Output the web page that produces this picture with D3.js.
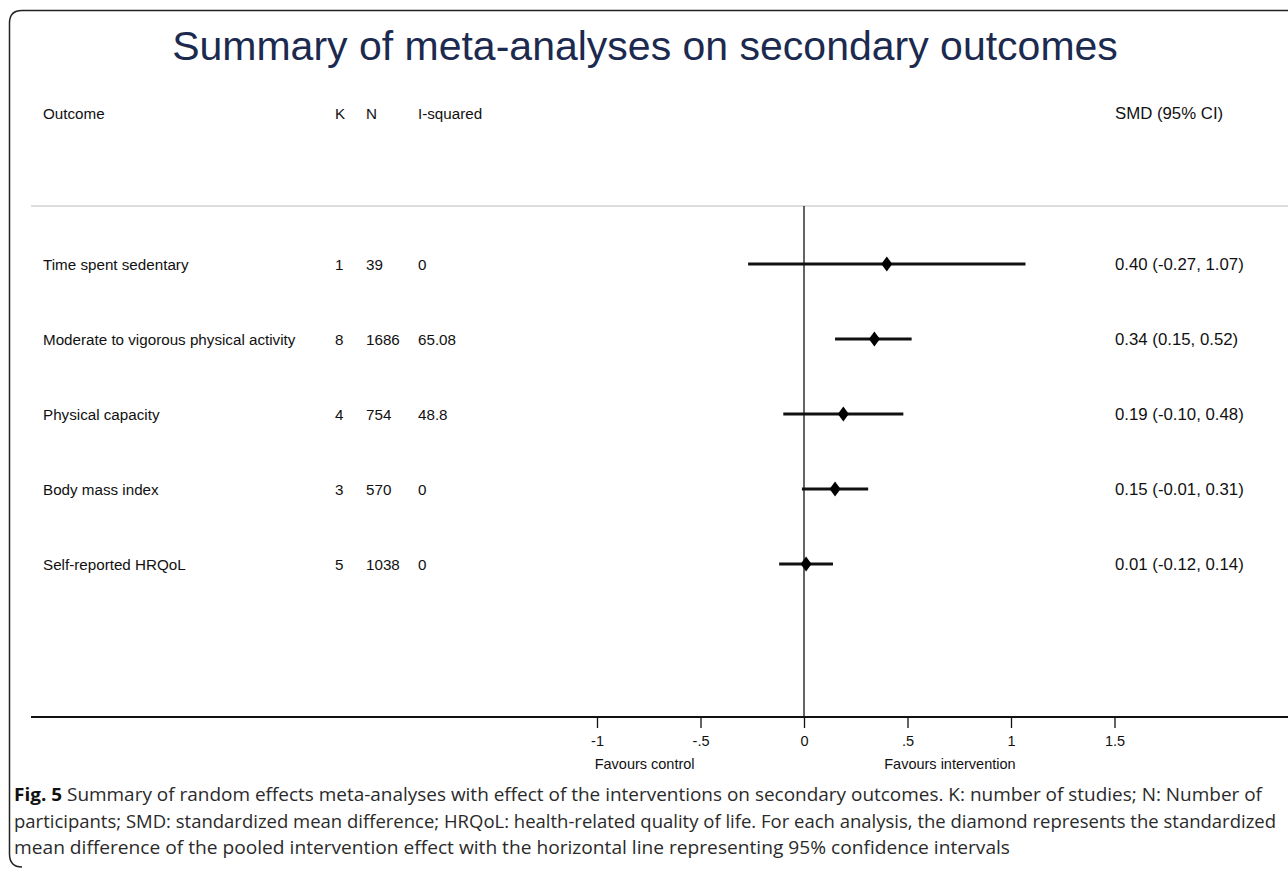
<html>
<head>
<script src="https://d3js.org/d3.v7.min.js"></script>
<style>
  body { margin: 0; background: #fff; }
  svg { font-family: "Liberation Sans", Arial, sans-serif; }
</style>
</head>
<body>
<svg id="chart" width="1288" height="871"></svg>
<script>

// table data, one entry per outcome
var outcomes = ["Time spent sedentary", "Moderate to vigorous physical activity",
  "Physical capacity", "Body mass index", "Self-reported HRQoL"];
var kStudies = [1, 8, 4, 3, 5];
var nParticipants = [39, 1686, 754, 570, 1038];
var iSquared = ["0", "65.08", "48.8", "0", "0"];
var smd = [0.40, 0.34, 0.19, 0.15, 0.01];
var ciLow = [-0.27, 0.15, -0.10, -0.01, -0.12];
var ciHigh = [1.07, 0.52, 0.48, 0.31, 0.14];
var tickValues = [-1, -0.5, 0, 0.5, 1, 1.5];
var tickLabels = ["-1", "-.5", "0", ".5", "1", "1.5"];

var captionLines = [
  "Summary of random effects meta-analyses with effect of the interventions on secondary outcomes. K: number of studies; N: Number of",
  "participants; SMD: standardized mean difference; HRQoL: health-related quality of life. For each analysis, the diamond represents the standardized",
  "mean difference of the pooled intervention effect with the horizontal line representing 95% confidence intervals"
];

var svg = d3.select("#chart");
var fs = 15.2;   // table text
var fsR = 16.8;  // right hand SMD column looks a bit larger

// x scale for the effect sizes: 0 sits at 804, 1 unit = 207px
var x = d3.scaleLinear().domain([0, 1]).range([804, 1011]);

// rows are spaced evenly
var y = d3.scalePoint()
  .domain(outcomes)
  .range([264, 564]);

// frame around the figure (open on the right side)
svg.append("path")
  .attr("d", "M 1288 10.5 L 22 10.5 Q 9.5 10.5 9.5 23 L 9.5 854 Q 9.5 867 22 867")
  .attr("fill", "none")
  .attr("stroke", "#222")
  .attr("stroke-width", 1.5);

// title
svg.append("text")
  .attr("x", 645)
  .attr("y", 60)
  .attr("text-anchor", "middle")
  .attr("font-size", 41)
  .attr("fill", "#1c2a4f")
  .text("Summary of meta-analyses on secondary outcomes");

// column headers
var headerY = 119;
var cols = [
  {x: 43, t: "Outcome", s: fs},
  {x: 335, t: "K", s: fs},
  {x: 366, t: "N", s: fs},
  {x: 418, t: "I-squared", s: fs},
  {x: 1115, t: "SMD (95% CI)", s: fsR}
];
svg.selectAll(".hdr")
  .data(cols)
  .enter().append("text")
  .attr("class", "hdr")
  .attr("x", function(d) { return d.x; })
  .attr("y", headerY)
  .attr("font-size", function(d) { return d.s; })
  .attr("fill", "#111")
  .text(function(d) { return d.t; });

// grey rule under the header
svg.append("line")
  .attr("x1", 31).attr("x2", 1288)
  .attr("y1", 206).attr("y2", 206)
  .attr("stroke", "#bbb")
  .attr("stroke-width", 1.2);

// line of no effect
svg.append("line")
  .attr("x1", x(0)).attr("x2", x(0))
  .attr("y1", 206).attr("y2", 717)
  .attr("stroke", "#111")
  .attr("stroke-width", 1.3);

// table rows
var rows = svg.selectAll(".row")
  .data(outcomes)
  .enter().append("g")
  .attr("class", "row");

rows.append("text")
  .attr("x", 43)
  .attr("y", function(d) { return y(d) + 5.5; })
  .attr("font-size", fs)
  .attr("fill", "#111")
  .text(function(d) { return d; });

rows.append("text")
  .attr("x", 335)
  .attr("y", function(d) { return y(d) + 5.5; })
  .attr("font-size", fs)
  .attr("fill", "#111")
  .text(function(d, i) { return kStudies[i]; });

rows.append("text")
  .attr("x", 366)
  .attr("y", function(d) { return y(d) + 5.5; })
  .attr("font-size", fs)
  .attr("fill", "#111")
  .text(function(d, i) { return nParticipants[i]; });

rows.append("text")
  .attr("x", 418)
  .attr("y", function(d) { return y(d) + 5.5; })
  .attr("font-size", fs)
  .attr("fill", "#111")
  .text(function(d, i) { return iSquared[i]; });

rows.append("text")
  .attr("x", 1115)
  .attr("y", function(d) { return y(d) + 6; })
  .attr("font-size", fsR)
  .attr("fill", "#111")
  .text(function(d, i) {
    return smd[i].toFixed(2) + " (" + ciLow[i].toFixed(2) + ", " + ciHigh[i].toFixed(2) + ")";
  });

// confidence intervals
rows.append("line")
  .attr("x1", function(d, i) { return x(ciLow[i]); })
  .attr("x2", function(d, i) { return x(ciHigh[i]); })
  .attr("y1", function(d) { return y(d); })
  .attr("y2", function(d) { return y(d); })
  .attr("stroke", "#111")
  .attr("stroke-width", 3);

// diamonds for the pooled estimate
rows.append("path")
  .attr("d", "M 0 -7.5 L 5.5 0 L 0 7.5 L -5.5 0 Z")
  .attr("transform", function(d, i) { return "translate(" + x(smd[i]) + "," + y(d) + ")"; })
  .attr("fill", "#000");

// x axis: long baseline, ticks only at the chosen values
svg.append("line")
  .attr("x1", 31).attr("x2", 1288)
  .attr("y1", 717).attr("y2", 717)
  .attr("stroke", "#111")
  .attr("stroke-width", 1.8);

var axis = d3.axisBottom(x)
  .tickValues(tickValues)
  .tickSize(11)
  .tickPadding(8)
  .tickFormat(function(d, i) { return tickLabels[i]; });

var gAxis = svg.append("g")
  .attr("transform", "translate(0,717)")
  .call(axis);
gAxis.select(".domain").remove();
gAxis.selectAll(".tick line").attr("stroke", "#111").attr("stroke-width", 1.3);
gAxis.selectAll(".tick text")
  .attr("font-family", "Liberation Sans, Arial, sans-serif")
  .attr("font-size", 14.5)
  .attr("fill", "#111");

// favours labels
svg.append("text")
  .attr("x", x(-0.77))
  .attr("y", 769)
  .attr("text-anchor", "middle")
  .attr("font-size", 14.5)
  .attr("fill", "#111")
  .text("Favours control");

svg.append("text")
  .attr("x", x(0.705))
  .attr("y", 769)
  .attr("text-anchor", "middle")
  .attr("font-size", 14.5)
  .attr("fill", "#111")
  .text("Favours intervention");

// figure caption
var capWidths = [1248, 1262, 996];
var cap = svg.selectAll(".cap")
  .data(captionLines)
  .enter().append("text")
  .attr("class", "cap")
  .attr("x", 14)
  .attr("y", function(d, i) { return 801 + i * 26.5; })
  .style("font-family", "'Open Sans', 'Noto Sans', sans-serif")
  .attr("font-size", 17.5)
  .attr("fill", "#2a2a2a")
  .attr("textLength", function(d, i) { return capWidths[i]; })
  .attr("lengthAdjust", "spacingAndGlyphs");

cap.each(function(d, i) {
  var t = d3.select(this);
  if (i === 0) {
    t.append("tspan").attr("font-weight", "bold").attr("fill", "#111").text("Fig. 5");
    t.append("tspan").text(" " + d);
  } else {
    t.text(d);
  }
});

</script>
</body>
</html>
